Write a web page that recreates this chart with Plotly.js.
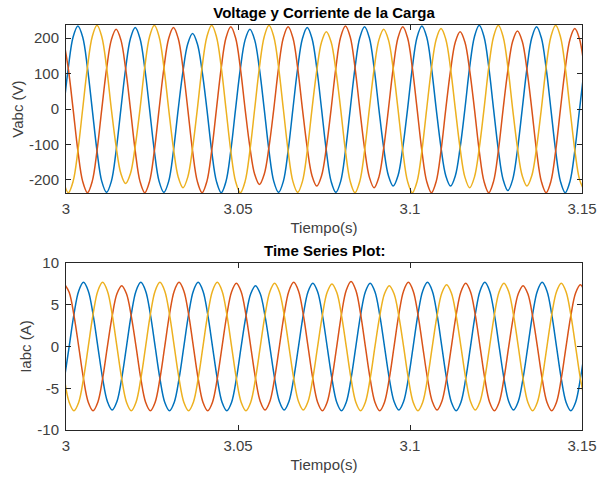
<!DOCTYPE html>
<html><head><meta charset="utf-8">
<script src="https://cdn.plot.ly/plotly-3.0.1.min.js"></script>
<style>html,body{margin:0;padding:0;background:#fff}#chart{width:604px;height:480px}</style>
</head><body><div id="chart"></div>
<script>
// Sample grid (30 degree steps of a 60 Hz wave)
const tStartV = 2.99929;   // first voltage sample time (s)
const tStartI = 2.99953;   // first current sample time (s)
const tStep = 0.0013889;   // sample spacing (s)

// Load voltage, phases a (blue), b (orange), c (yellow), in V
const vA = [
 0,117,203,234,203,117,0,-118,-204,-235,-204,-118,
 0,115,199,230,199,115,0,-118,-204,-235,-204,-118,
 0,107,184,213,184,107,0,-118,-204,-236,-204,-118,
 0,113,195,225,195,113,0,-118,-204,-235,-204,-118,
 0,115,199,230,199,115,0,-118,-204,-235,-204,-118,
 0,116,201,232,201,116,0,-109,-188,-217,-188,-109,
 0,117,203,234,203,117,0,-109,-188,-217,-188,-109,
 0,118,204,236,204,118,0,-115,-199,-230,-199,-115,
 0,116,201,232,201,116,0,-118,-204,-236,-204,-118,
 0,115];
const vB = [
 195,113,0,-118,-204,-236,-204,-118,0,113,195,225,
 195,113,0,-118,-204,-236,-204,-118,0,115,199,230,
 199,115,0,-118,-204,-236,-204,-118,0,116,201,232,
 201,116,0,-107,-184,-213,-184,-107,0,116,201,232,
 201,116,0,-109,-188,-217,-188,-109,0,117,203,234,
 203,117,0,-111,-192,-222,-192,-111,0,116,201,232,
 201,116,0,-118,-204,-236,-204,-118,0,109,189,218,
 189,109,0,-118,-204,-236,-204,-118,0,110,191,220,
 191,110,0,-118,-204,-236,-204,-118,0,114,197,227,
 197,114];
const vC = [
 -204,-236,-204,-118,0,118,204,236,204,118,0,-105,
 -182,-210,-182,-105,0,118,204,236,204,118,0,-111,
 -192,-222,-192,-111,0,118,204,236,204,118,0,-118,
 -204,-236,-204,-118,0,118,204,236,204,118,0,-118,
 -204,-235,-204,-118,0,109,189,218,189,109,0,-118,
 -204,-236,-204,-118,0,113,195,225,195,113,0,-118,
 -204,-236,-204,-118,0,114,197,227,197,114,0,-111,
 -192,-222,-192,-111,0,118,204,236,204,118,0,-109,
 -188,-217,-188,-109,0,118,204,236,204,118,0,-115,
 -199,-230];

// Load current, phases a (blue), b (orange), c (yellow), in A
const iA = [
 -3.85,0,3.85,6.67,7.7,6.67,3.85,0,-3.8,-6.58,-7.6,-6.58,
 -3.8,0,3.85,6.67,7.7,6.67,3.85,0,-3.85,-6.67,-7.7,-6.67,
 -3.85,0,3.85,6.67,7.7,6.67,3.85,0,-3.85,-6.67,-7.7,-6.67,
 -3.85,0,3.65,6.32,7.3,6.32,3.65,0,-3.8,-6.58,-7.6,-6.58,
 -3.8,0,3.8,6.58,7.6,6.58,3.8,0,-3.85,-6.67,-7.7,-6.67,
 -3.85,0,3.8,6.58,7.6,6.58,3.8,0,-3.8,-6.58,-7.6,-6.58,
 -3.8,0,3.85,6.67,7.7,6.67,3.85,0,-3.85,-6.67,-7.7,-6.67,
 -3.85,0,3.85,6.67,7.7,6.67,3.85,0,-3.8,-6.58,-7.6,-6.58,
 -3.8,0,3.85,6.67,7.7,6.67,3.85,0,-3.85,-6.67,-7.7,-6.67,
 -3.85,0];
const iB = [
 7.5,6.5,3.75,0,-3.85,-6.67,-7.7,-6.67,-3.85,0,3.65,6.32,
 7.3,6.32,3.65,0,-3.85,-6.67,-7.7,-6.67,-3.85,0,3.85,6.67,
 7.7,6.67,3.85,0,-3.85,-6.67,-7.7,-6.67,-3.85,0,3.8,6.58,
 7.6,6.58,3.8,0,-3.8,-6.58,-7.6,-6.58,-3.8,0,3.85,6.67,
 7.7,6.67,3.85,0,-3.85,-6.67,-7.7,-6.67,-3.85,0,3.9,6.75,
 7.8,6.75,3.9,0,-3.85,-6.67,-7.7,-6.67,-3.85,0,3.85,6.67,
 7.7,6.67,3.85,0,-3.8,-6.58,-7.6,-6.58,-3.8,0,3.8,6.58,
 7.6,6.58,3.8,0,-3.85,-6.67,-7.7,-6.67,-3.85,0,3.65,6.32,
 7.3,6.32,3.65,0,-3.85,-6.67,-7.7,-6.67,-3.85,0,3.7,6.41,
 7.4,6.41];
const iC = [
 -3.85,-6.67,-7.7,-6.67,-3.85,0,3.85,6.67,7.7,6.67,3.85,0,
 -3.85,-6.67,-7.7,-6.67,-3.85,0,3.85,6.67,7.7,6.67,3.85,0,
 -3.85,-6.67,-7.7,-6.67,-3.85,0,3.85,6.67,7.7,6.67,3.85,0,
 -3.85,-6.67,-7.7,-6.67,-3.85,0,3.8,6.58,7.6,6.58,3.8,0,
 -3.8,-6.58,-7.6,-6.58,-3.8,0,3.75,6.5,7.5,6.5,3.75,0,
 -3.85,-6.67,-7.7,-6.67,-3.85,0,3.65,6.32,7.3,6.32,3.65,0,
 -3.85,-6.67,-7.7,-6.67,-3.85,0,3.7,6.41,7.4,6.41,3.7,0,
 -3.8,-6.58,-7.6,-6.58,-3.8,0,3.8,6.58,7.6,6.58,3.8,0,
 -3.85,-6.67,-7.7,-6.67,-3.85,0,3.8,6.58,7.6,6.58,3.8,0,
 -3.85,-6.67];

// Tick labels
const xTickVals = [3, 3.05, 3.1, 3.15];
const xTickText = ['3', '3.05', '3.1', '3.15'];
const vTickVals = [-200, -100, 0, 100, 200];
const vTickText = ['-200', '-100', '0', '100', '200'];
const iTickVals = [-10, -5, 0, 5, 10];
const iTickText = ['-10', '-5', '0', '5', '10'];

const colors = ['#0072BD', '#D95319', '#EDB120'];
const FONT = 'Liberation Sans, Arial, Helvetica, sans-serif';

function wave(y, t0, c, xa, ya) {
  return {type: 'scatter', mode: 'lines', y: y, x0: t0, dx: tStep,
    xaxis: xa, yaxis: ya, hoverinfo: 'skip',
    line: {color: c, width: 1.5, shape: 'spline', smoothing: 1}};
}

const data = [
  wave(vA, tStartV, colors[0], 'x', 'y'),
  wave(vB, tStartV, colors[1], 'x', 'y'),
  wave(vC, tStartV, colors[2], 'x', 'y'),
  wave(iA, tStartI, colors[0], 'x2', 'y2'),
  wave(iB, tStartI, colors[1], 'x2', 'y2'),
  wave(iC, tStartI, colors[2], 'x2', 'y2')
];

const axBase = {showline: true, linecolor: '#262626', linewidth: 1, mirror: 'allticks',
  ticks: 'inside', ticklen: 5, tickwidth: 1, tickcolor: '#262626',
  showgrid: false, zeroline: false, automargin: false,
  tickfont: {family: FONT, size: 15, color: '#404040'}};

const xAxis = (anchor) => Object.assign({}, axBase, {anchor: anchor, range: [3, 3.15],
  tickmode: 'array', tickvals: xTickVals, ticktext: xTickText, ticklabelstandoff: 2,
  title: {text: 'Tiempo(s)', standoff: 6, font: {family: FONT, size: 15, color: '#404040'}}});

const layout = {
  width: 604, height: 480,
  margin: {l: 66, r: 22, t: 25, b: 50},
  paper_bgcolor: '#fff', plot_bgcolor: '#fff',
  showlegend: false,
  font: {family: FONT, size: 15, color: '#262626'},
  title: {text: '<b>Voltage y Corriente de la Carga</b>', x: 0.5, xref: 'paper', xanchor: 'center',
    y: 1 - 13/480, yref: 'container', yanchor: 'middle', font: {family: FONT, size: 15, color: '#000'}},
  xaxis: xAxis('y'),
  xaxis2: xAxis('y2'),
  yaxis: Object.assign({}, axBase, {domain: [0.585, 1], range: [-237, 237], tickmode: 'array',
    tickvals: vTickVals, ticktext: vTickText, ticklabelstandoff: 3,
    title: {text: 'Vabc (V)', standoff: 1, font: {family: FONT, size: 15, color: '#404040'}}}),
  yaxis2: Object.assign({}, axBase, {domain: [0, 0.412], range: [-10, 10], tickmode: 'array',
    tickvals: iTickVals, ticktext: iTickText, ticklabelstandoff: 3,
    title: {text: 'Iabc (A)', standoff: 2, font: {family: FONT, size: 15, color: '#404040'}}}),
  annotations: [{text: '<b>Time Series Plot:</b>', xref: 'paper', yref: 'paper', x: 0.5, y: 0.444,
    xanchor: 'center', yanchor: 'middle', showarrow: false, font: {family: FONT, size: 15, color: '#000'}}]
};

Plotly.newPlot('chart', data, layout, {staticPlot: true, displayModeBar: false});
</script></body></html>
